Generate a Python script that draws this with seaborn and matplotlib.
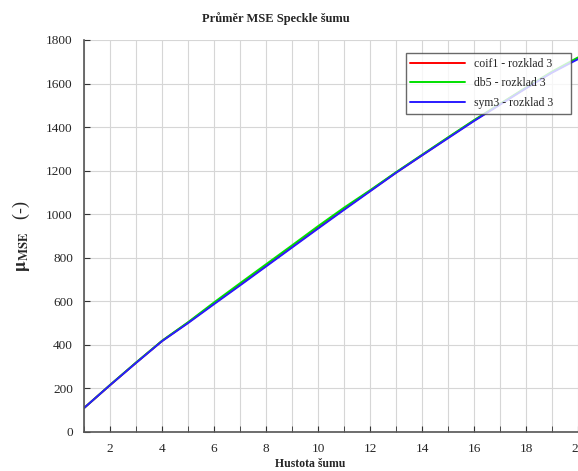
import numpy as np
import pandas as pd
import matplotlib
matplotlib.use('Agg')
import matplotlib.pyplot as plt
import seaborn as sns

# hodnoty
hustota = list(range(1, 21))
coif1 = [110, 215, 318, 418, 502, 590, 676, 763, 850, 937, 1023, 1107, 1191, 1271, 1351, 1430, 1505, 1580, 1652, 1717]
db5 = [110, 216, 319, 419, 504, 595, 683, 770, 857, 945, 1030, 1110, 1193, 1273, 1353, 1432, 1507, 1582, 1655, 1720]
sym3 = [110, 215, 317, 417, 500, 587, 673, 760, 847, 934, 1020, 1105, 1190, 1270, 1349, 1428, 1503, 1578, 1650, 1712]
nazvy = ['coif1 - rozklad 3', 'db5 - rozklad 3', 'sym3 - rozklad 3']
barvy = ['#ff0000', '#00e000', '#2a1aff']

df = pd.DataFrame({
    'x': hustota * 3,
    'mse': coif1 + db5 + sym3,
    'serie': [nazvy[0]] * 20 + [nazvy[1]] * 20 + [nazvy[2]] * 20,
})

sns.set_style('ticks')
plt.rcParams['font.family'] = ['Liberation Serif', 'DejaVu Serif']
plt.rcParams['mathtext.fontset'] = 'stix'

fig = plt.figure(figsize=(5.78, 4.71), dpi=100)
ax = fig.add_axes([84 / 578, 39 / 471, 494 / 578, 392 / 471])

sns.lineplot(data=df, x='x', y='mse', hue='serie', palette=barvy,
             linewidth=1.4, ax=ax)

ax.set_xlim(1, 20)
ax.set_ylim(0, 1800)
ax.set_xticks(range(2, 21, 2))
ax.set_xticks(range(1, 21), minor=True)
ax.set_yticks(range(0, 1801, 200))
ax.grid(True, which='both', color='#d6d6d6', linewidth=0.8)
ax.set_axisbelow(True)
for s in ['top', 'right']:
    ax.spines[s].set_visible(False)
for s in ['left', 'bottom']:
    ax.spines[s].set_color('#555555')
    ax.spines[s].set_linewidth(1.2)
ax.tick_params(which='both', direction='in', length=4, color='#333333',
               labelsize=9.5, pad=8)

ax.set_title('Průměr MSE Speckle šumu', fontsize=9, fontweight='bold',
             x=0.389, y=1.0, pad=13)
ax.set_xlabel('Hustota šumu', fontsize=8.5, fontweight='bold', labelpad=2)
ax.xaxis.set_label_coords(0.457, -0.066)
ax.set_ylabel(r'$\mathbf{\mu}_{\mathbf{MSE}}$   (-)', fontsize=13, labelpad=10)

leg = ax.legend(loc='upper left', bbox_to_anchor=(0.651, 0.5, 0.334, 0.467),
                mode='expand', fontsize=8.5,
                frameon=True, fancybox=False, handlelength=4.6, borderpad=0.4,
                borderaxespad=0, labelspacing=0.65, title=None)
leg.get_frame().set_edgecolor('#444444')
leg.get_frame().set_linewidth(1.0)

fig.savefig('out.png', dpi=100)
